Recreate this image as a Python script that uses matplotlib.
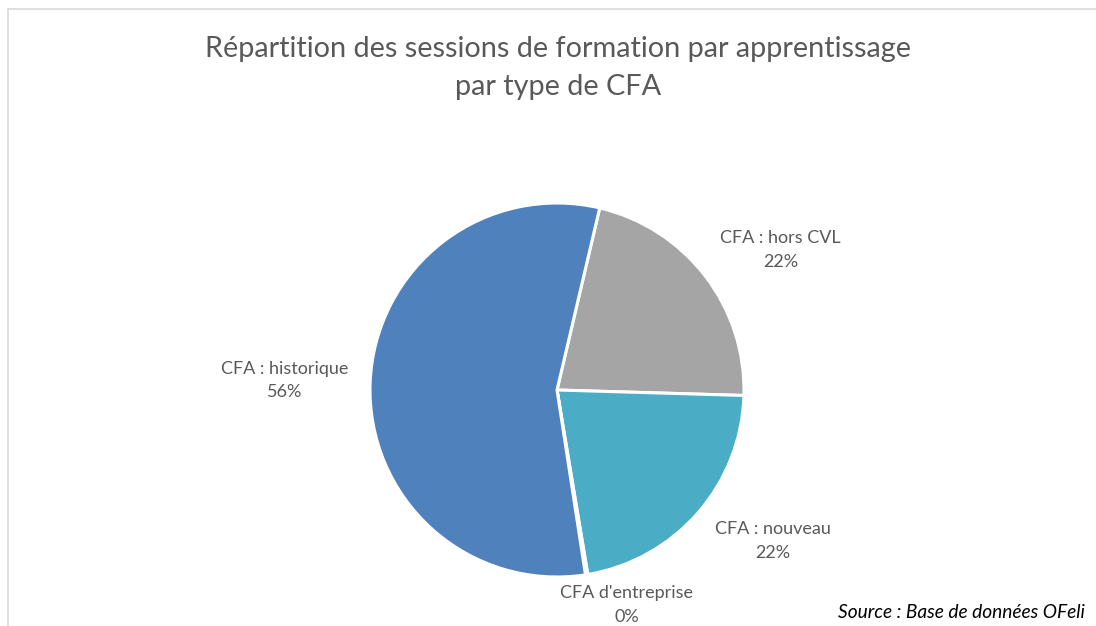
import numpy as np
import matplotlib
matplotlib.use("Agg")
import matplotlib.pyplot as plt
from matplotlib.lines import Line2D

# data (clockwise from the first slice)
categories = ["CFA : hors CVL", "CFA : nouveau", "CFA d'entreprise", "CFA : historique"]
shares = [21.8, 21.9, 0.2, 56.1]
pct_labels = ["22%", "22%", "0%", "56%"]
colors = ["#A5A5A5", "#4BACC6", "#4F81BD", "#4F81BD"]

# label placement (radius factor, angle from 12 o'clock clockwise, degrees)
label_pos = [(1.41, 58), (1.41, 125), (1.21, 162), (1.455, 272)]

plt.rcParams['font.family'] = ['Lato', 'DejaVu Sans']
text_gray = "#595959"

fig = plt.figure(figsize=(10.96, 6.26), dpi=100)

# pie geometry in pixels
cx, cy, r = 557, 390, 187
W, H = 1096, 626
ax = fig.add_axes([(cx - r) / W, (H - cy - r) / H, 2 * r / W, 2 * r / H])

ax.pie(shares, colors=colors, startangle=76.8, counterclock=False,
       wedgeprops=dict(edgecolor="white", linewidth=2.2))
ax.set_xlim(-1, 1)
ax.set_ylim(-1, 1)
ax.set_aspect("auto")
ax.axis("off")

# data labels
for cat, pct, (rf, ang) in zip(categories, pct_labels, label_pos):
    a = np.deg2rad(ang)
    ax.text(rf * np.sin(a), rf * np.cos(a), cat + "\n" + pct,
            ha="center", va="center", fontsize=13, color=text_gray,
            linespacing=1.6, clip_on=False)

# title
fig.text(558 / W, 1 - 68 / H, "Répartition des sessions de formation par apprentissage\npar type de CFA",
         ha="center", va="center", fontsize=20.8, color=text_gray, linespacing=1.6)

# source
fig.text(1085 / W, 1 - 612 / H, "Source : Base de données OFeli",
         ha="right", va="center", fontsize=13.8, style="italic", color="black")

# chart frame (left and top edges visible)
frame_c = "#D9D9D9"
fig.add_artist(Line2D([8 / W, 8 / W], [0, 1 - 9 / H], color=frame_c, lw=1.2))
fig.add_artist(Line2D([8 / W, 1], [1 - 9 / H, 1 - 9 / H], color=frame_c, lw=1.2))

fig.savefig("out.png", dpi=100, facecolor="white")
